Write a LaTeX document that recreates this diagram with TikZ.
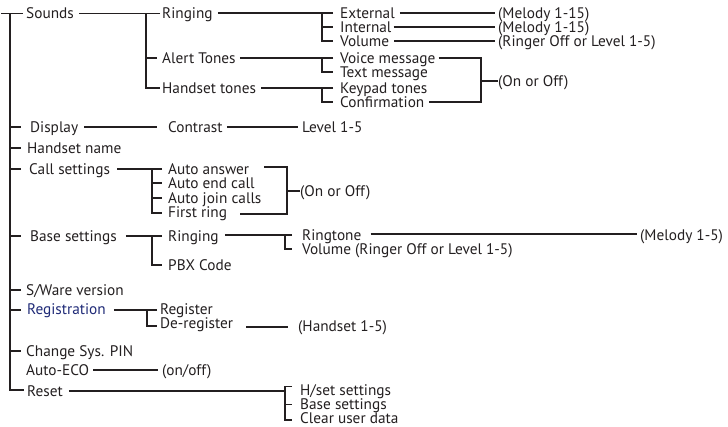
\documentclass[tikz,border=0pt]{standalone}
\usepackage{fontspec}
\setmainfont{PT Sans}
\definecolor{ink}{HTML}{231F20}
\definecolor{navy}{HTML}{1F2A77}
\begin{document}
\begin{tikzpicture}[x=1pt,y=-1pt,
  lab/.style={anchor=base west, inner sep=0pt, yshift=-5pt, text=ink, font=\fontsize{15.3}{15}\selectfont},
  conn/.style={draw=ink, line width=1.8pt},
  br/.style={draw=ink, line width=1.2pt}]
\useasboundingbox (0,0) rectangle (728,426);
% ---- text nodes
\node[lab] (snd) at (26,13) {Sounds};
\node[lab] (ring1) at (162,13) {Ringing};
\node[lab] (ext) at (340,13) {External};
\node[lab] (m1) at (498,13) {(Melody 1-15)};
\node[lab] (int) at (340,27) {Internal};
\node[lab] (m2) at (498,27) {(Melody 1-15)};
\node[lab] (vol) at (340,41) {Volume};
\node[lab] (rov) at (498,41) {(Ringer Off or Level 1-5)};
\node[lab] (alert) at (162,58) {Alert Tones};
\node[lab] (voice) at (340,58) {Voice message};
\node[lab] (textm) at (340,72) {Text message};
\node[lab] (onoff1) at (498,81) {(On or Off)};
\node[lab] (hst) at (162,88) {Handset tones};
\node[lab] (keypad) at (340,88) {Keypad tones};
\node[lab] (conf) at (340,102) {Confirmation};
\node[lab] (disp) at (30,127) {Display};
\node[lab] (contr) at (168,127) {Contrast};
\node[lab] (lev) at (302,127) {Level 1-5};
\node[lab] (hname) at (27,148) {Handset name};
\node[lab] (call) at (29,169) {Call settings};
\node[lab] (aans) at (168,169) {Auto answer};
\node[lab] (aend) at (168,183) {Auto end call};
\node[lab] (ajoin) at (168,198) {Auto join calls};
\node[lab] (fring) at (168,212) {First ring};
\node[lab] (onoff2) at (300,191) {(On or Off)};
\node[lab] (base) at (30,236) {Base settings};
\node[lab] (ring2) at (168,236) {Ringing};
\node[lab] (rtone) at (302,235) {Ringtone};
\node[lab] (m3) at (640,235) {(Melody 1-5)};
\node[lab] (vol2) at (302,249) {Volume (Ringer Off or Level 1-5)};
\node[lab] (pbx) at (168,265) {PBX Code};
\node[lab] (sw) at (26,290) {S/Ware version};
\node[lab, text=navy] (reg) at (27,309) {Registration};
\node[lab] (register) at (160,309) {Register};
\node[lab] (dereg) at (160,323) {De-register};
\node[lab] (hs15) at (298,326) {(Handset 1-5)};
\node[lab] (pin) at (26,351) {Change Sys. PIN};
\node[lab] (eco) at (26,370) {Auto-ECO};
\node[lab] (onoff3) at (162,370) {(on/off)};
\node[lab] (reset) at (27,391) {Reset};
\node[lab] (hset) at (300,390) {H/set settings};
\node[lab] (bset) at (300,404.5) {Base settings};
\node[lab, text depth=0pt] (clear) at (300,418) {Clear user data};
% ---- coordinates
\coordinate (T0) at (1,13.5);
\coordinate (T1) at (10,13.5);
\coordinate (T2) at (10,390);
\coordinate (Rdisp) at (10,127);
\coordinate (Rhname) at (10,148);
\coordinate (Rcall) at (10,169);
\coordinate (Rbase) at (10,236);
\coordinate (Rsw) at (10,290);
\coordinate (Rreg) at (10,310);
\coordinate (Rpin) at (10,351);
\coordinate (B1a) at (146,13.5);
\coordinate (B1b) at (146,58);
\coordinate (B1c) at (146,88);
\coordinate (B2a) at (322,13);
\coordinate (B2b) at (322,27);
\coordinate (B2c) at (322,41);
\coordinate (E1) at (495,13);
\coordinate (E2) at (495,27);
\coordinate (E3) at (495,41);
\coordinate (B3a) at (322,58);
\coordinate (B3b) at (322,72);
\coordinate (B4a) at (322,88);
\coordinate (B4b) at (322,102);
\coordinate (O1a) at (481,58);
\coordinate (O1m) at (481,81);
\coordinate (O1b) at (481,102);
\coordinate (D1) at (157,127);
\coordinate (D2) at (298,127);
\coordinate (B5a) at (152,169);
\coordinate (B5b) at (152,183);
\coordinate (B5c) at (152,198);
\coordinate (B5d) at (152,213);
\coordinate (O2a) at (287,167);
\coordinate (O2m) at (287,191);
\coordinate (O2b) at (287,214);
\coordinate (B6a) at (152,236);
\coordinate (B6b) at (152,265);
\coordinate (B7a) at (285,235);
\coordinate (B7b) at (285,249);
\coordinate (M3) at (637,234);
\coordinate (B8a) at (147,310);
\coordinate (B8b) at (147,326);
\coordinate (H1) at (288,327);
\coordinate (A1) at (160,370);
\coordinate (B9a) at (285,386.5);
\coordinate (B9r) at (285,391);
\coordinate (B9b) at (285,404.5);
\coordinate (B9c) at (285,420);
% ---- trunk
\draw[br, shorten >=3pt] (T0) -- (T0 -| snd.west);
\draw[br, shorten >=3pt] (T1) -- (T2) -- (T2 -| reset.west);
\foreach \r/\n in {Rdisp/disp, Rhname/hname, Rcall/call, Rbase/base, Rsw/sw, Rreg/reg, Rpin/pin}
  \draw[conn] (\r) -- ++(11,0);
% ---- Sounds
\draw[conn, shorten <=5pt] (B1a -| snd.east) -- (B1a);
\draw[br, shorten <=2pt, shorten >=2pt] (B1a -| ring1.west) -- (B1a) -- (B1c) -- (B1c -| hst.west);
\draw[conn, shorten >=5pt] (B1b) -- (B1b -| alert.west);
\draw[conn, shorten <=5pt] (B2a -| ring1.east) -- (B2a);
\draw[br, shorten <=7pt, shorten >=7pt] (B2a -| ext.west) -- (B2a) -- (B2c) -- (B2c -| vol.west);
\draw[conn, shorten >=7pt] (B2b) -- (B2b -| int.west);
\draw[conn, shorten <=5pt] (E1 -| ext.east) -- (E1);
\draw[conn, shorten <=2pt] (E2 -| int.east) -- (E2);
\draw[conn, shorten <=5pt] (E3 -| vol.east) -- (E3);
\draw[conn, shorten <=4pt] (B3a -| alert.east) -- (B3a);
\draw[br, shorten <=7pt, shorten >=7pt] (B3a -| voice.west) -- (B3a) -- (B3b) -- (B3b -| textm.west);
\draw[conn, shorten <=5pt] (B4a -| hst.east) -- (B4a);
\draw[br, shorten <=7pt, shorten >=7pt] (B4a -| keypad.west) -- (B4a) -- (B4b) -- (B4b -| conf.west);
\draw[br, shorten <=3pt, shorten >=4pt] (O1a -| voice.east) -- (O1a) -- (O1b) -- (O1b -| conf.east);
\draw[conn] (O1m) -- (O1m -| onoff1.west);
% ---- Display
\draw[conn, shorten <=6pt] (D1 -| disp.east) -- (D1);
\draw[conn, shorten <=4pt] (D2 -| contr.east) -- (D2);
% ---- Call settings
\draw[conn, shorten <=7pt] (B5a -| call.east) -- (B5a);
\draw[br, shorten <=6pt, shorten >=6pt] (B5a -| aans.west) -- (B5a) -- (B5d) -- (B5d -| fring.west);
\draw[conn, shorten >=6pt] (B5b) -- (B5b -| aend.west);
\draw[conn, shorten >=6pt] (B5c) -- (B5c -| ajoin.west);
\draw[br, shorten <=15pt, shorten >=13pt] (O2a -| aans.east) -- (O2a) -- (O2b) -- (O2b -| fring.east);
\draw[conn] (O2m) -- (O2m -| onoff2.west);
% ---- Base settings
\draw[conn, shorten <=9pt] (B6a -| base.east) -- (B6a);
\draw[br, shorten <=6pt, shorten >=6pt] (B6a -| ring2.west) -- (B6a) -- (B6b) -- (B6b -| pbx.west);
\draw[conn, shorten <=6pt] (B7a -| ring2.east) -- (B7a);
\draw[br, shorten <=10pt, shorten >=10pt] (B7a -| rtone.west) -- (B7a) -- (B7b) -- (B7b -| vol2.west);
\draw[conn, shorten <=9pt] (M3 -| rtone.east) -- (M3);
% ---- Registration
\draw[conn, shorten <=8pt] (B8a -| reg.east) -- (B8a);
\draw[br, shorten <=3pt, shorten >=3pt] (B8a -| register.west) -- (B8a) -- (B8b) -- (B8b -| dereg.west);
\draw[conn, shorten <=13pt] (H1 -| dereg.east) -- (H1);
% ---- Auto-ECO
\draw[conn, shorten <=4pt, shorten >=2pt] (A1 -| eco.east) -- (A1);
% ---- Reset
\draw[conn, shorten <=6pt] (B9r -| reset.east) -- (B9r);
\draw[br, shorten <=8pt, shorten >=8pt] (B9a -| hset.west) -- (B9a) -- (B9c) -- (B9c -| clear.west);
\draw[conn, shorten >=8pt] (B9b) -- (B9b -| bset.west);
\end{tikzpicture}
\end{document}
